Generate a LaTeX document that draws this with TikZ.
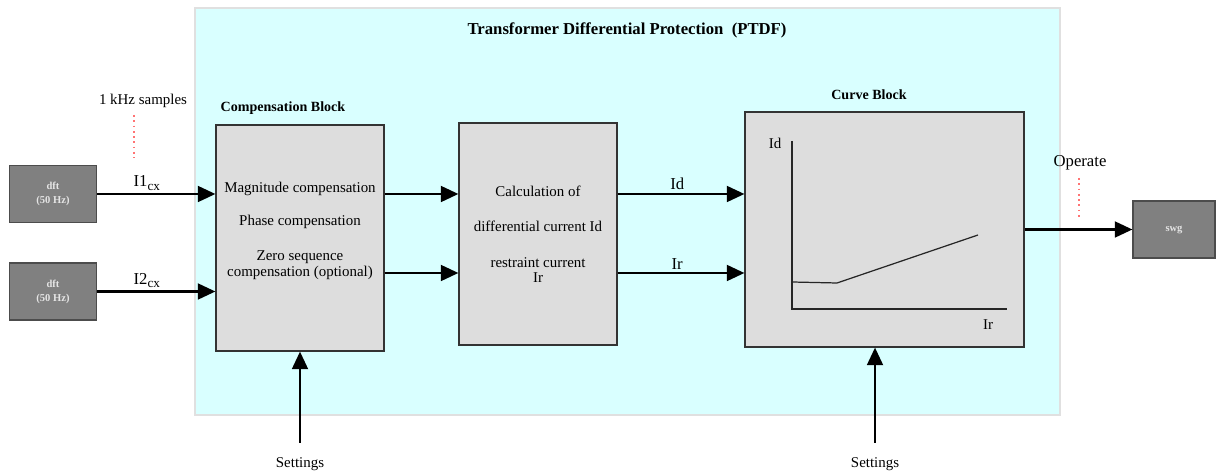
\documentclass[tikz,border=0pt]{standalone}
\usepackage{fontspec}
\setmainfont{Liberation Serif}
\usetikzlibrary{arrows.meta, positioning, calc}
\definecolor{panelcyan}{RGB}{217,255,255}
\definecolor{blockgray}{RGB}{221,221,221}
\definecolor{srcgray}{RGB}{128,128,128}
\newcommand{\sigsub}[2]{#1\raisebox{-0.4ex}{\fontsize{7.5}{8}\selectfont #2}}
\tikzset{
  panel/.style={
    draw=black!12,
    fill=panelcyan,
    rectangle,
    inner sep=0pt,
    line width=0.8pt
  },
  block/.style={
    draw=black!80,
    fill=blockgray,
    rectangle,
    inner sep=0pt,
    line width=0.7pt
  },
  srcblock/.style={
    draw=black!70,
    fill=srcgray,
    rectangle,
    inner sep=0pt,
    line width=0.7pt,
    align=center,
    text=black!10,
    font=\fontsize{6}{8}\selectfont\bfseries,
    minimum width=1.74cm,
    minimum height=1.14cm
  },
  txt/.style={
    inner sep=0pt,
    font=\fontsize{8.5}{10}\selectfont
  },
  sig/.style={
    inner sep=1.5pt,
    font=\fontsize{9.5}{11}\selectfont
  },
  caption/.style={
    inner sep=0pt,
    font=\fontsize{8}{10}\selectfont\bfseries
  },
  arrow/.style={
    -{Triangle[length=10pt,width=9pt]},
    line width=1.4pt
  },
  sample/.style={
    red!55,
    dotted,
    line width=1pt
  }
}
\begin{document}
\begin{tikzpicture}[x=0.02cm, y=-0.02cm]
  \useasboundingbox (0,0) rectangle (1216,475);

  % Cadre PTDF
  \node[panel, minimum width=17.3cm, minimum height=8.14cm] (ptdf) at (627.5,211.5) {};
  \node[inner sep=0pt, font=\fontsize{9.5}{11}\selectfont\bfseries] (title) at (627,30) {Transformer Differential Protection\ \ (PTDF)};

  % Sources dft
  \node[srcblock] (dft1) at (53,194) {dft\\(50 Hz)};
  \node[srcblock] (dft2) at (53,291.5) {dft\\(50 Hz)};

  % Blocs
  \node[block, minimum width=3.36cm, minimum height=4.52cm] (comp) at (300,238) {};
  \node[block, minimum width=3.16cm, minimum height=4.44cm] (calc) at (538,234) {};
  \node[block, minimum width=5.58cm, minimum height=4.70cm] (curve) at (884.5,229.5) {};
  \node[srcblock, minimum width=1.64cm] (swg) at (1174,229.5) {swg};

  \node[caption] (compcap) at (283,108) {Compensation Block};
  \node[caption] (curvecap) at (869,95) {Curve Block};

  % Textes des blocs
  \node[txt] (comp1) at (300,189) {Magnitude compensation};
  \node[txt] (comp2) at (300,222) {Phase compensation};
  \node[txt] (comp3) at (300,257) {Zero sequence};
  \node[txt] (comp4) at (300,273) {compensation (optional)};
  \node[txt] (calc1) at (538,191) {Calculation of};
  \node[txt] (calc2) at (538,226) {differential current Id};
  \node[txt] (calc3) at (538,263) {restraint current};
  \node[txt] (calc4) at (538,278) {Ir};

  % Caractéristique
  \coordinate (org) at (792,309);
  \coordinate (ytop) at (792,141);
  \coordinate (xend) at (1007,309);
  \draw[line width=0.7pt, black!85] (ytop) -- (org) -- (xend);
  \draw[line width=0.7pt, black!85] (792,282) -- (837,283) -- (978,235);
  \node[txt] (idlbl) at (775,143) {Id};
  \node[txt] (irlbl) at (988,325) {Ir};

  % Flèches
  \coordinate (lo) at (0,273);
  \draw[arrow] (dft1.east) -- node[sig, above, pos=0.42] {\sigsub{I1}{cx}} (dft1 -| comp.west);
  \draw[arrow] (dft2.east) -- node[sig, above, pos=0.42] {\sigsub{I2}{cx}} (dft2 -| comp.west);
  \draw[arrow] (dft1 -| comp.east) -- (dft1 -| calc.west);
  \draw[arrow] (lo -| comp.east) -- (lo -| calc.west);
  \draw[arrow] (dft1 -| calc.east) -- node[sig, above, pos=0.47] {Id} (dft1 -| curve.west);
  \draw[arrow] (lo -| calc.east) -- node[sig, above, pos=0.47] {Ir} (lo -| curve.west);
  \draw[arrow] (curve.east) -- (swg.west);

  % Réglages
  \coordinate (set1) at (300,443);
  \coordinate (set2) at (875,443);
  \draw[arrow] (set1) -- (set1 |- comp.south);
  \draw[arrow] (set2) -- (set2 |- curve.south);
  \node[txt] (set1lbl) at (300,464) {Settings};
  \node[txt] (set2lbl) at (875,464) {Settings};

  % Echantillons et sortie
  \node[txt] (samples) at (143,101) {1 kHz samples};
  \draw[sample] (134,115) -- (134,158);
  \node[sig, inner sep=0pt] (operate) at (1080,163) {Operate};
  \draw[sample] (1079,178) -- (1079,220);
\end{tikzpicture}
\end{document}
